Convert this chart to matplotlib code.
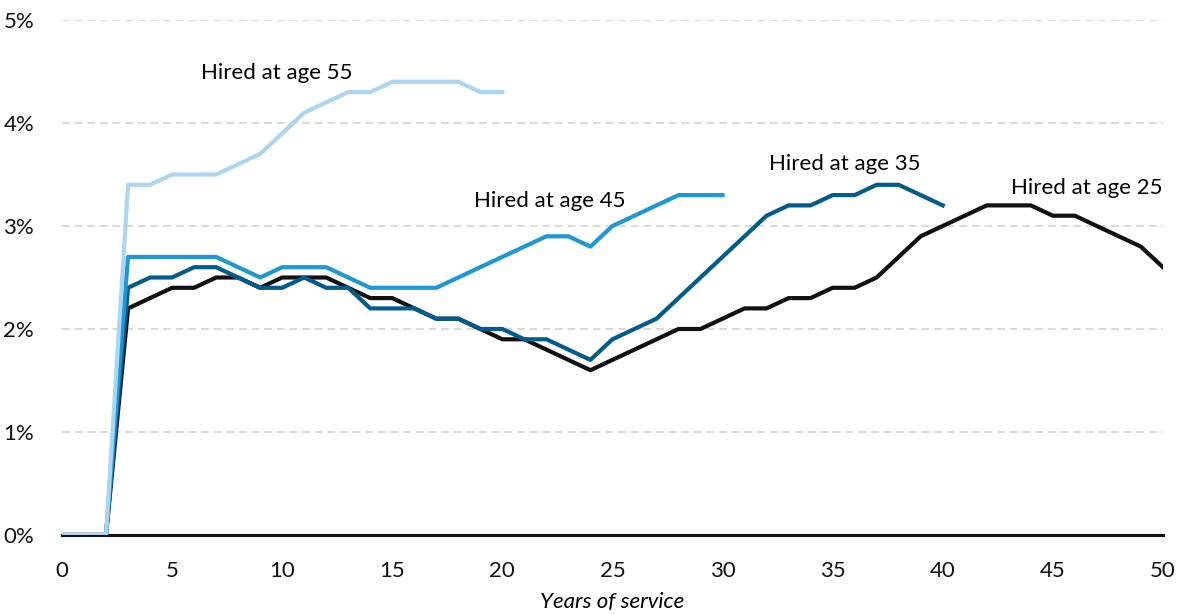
import matplotlib.pyplot as plt
from matplotlib.ticker import FuncFormatter

plt.rcParams['font.family'] = ['Lato', 'DejaVu Sans']

# years of service for each hiring age
years_25 = list(range(0, 51))
years_35 = list(range(0, 41))
years_45 = list(range(0, 31))
years_55 = list(range(0, 21))

# percent values
hired_25 = [0, 0, 0, 2.2, 2.3, 2.4, 2.4, 2.5, 2.5, 2.4,
            2.5, 2.5, 2.5, 2.4, 2.3, 2.3, 2.2, 2.1, 2.1, 2.0,
            1.9, 1.9, 1.8, 1.7, 1.6, 1.7, 1.8, 1.9, 2.0, 2.0,
            2.1, 2.2, 2.2, 2.3, 2.3, 2.4, 2.4, 2.5, 2.7, 2.9,
            3.0, 3.1, 3.2, 3.2, 3.2, 3.1, 3.1, 3.0, 2.9, 2.8,
            2.6]
hired_35 = [0, 0, 0, 2.4, 2.5, 2.5, 2.6, 2.6, 2.5, 2.4,
            2.4, 2.5, 2.4, 2.4, 2.2, 2.2, 2.2, 2.1, 2.1, 2.0,
            2.0, 1.9, 1.9, 1.8, 1.7, 1.9, 2.0, 2.1, 2.3, 2.5,
            2.7, 2.9, 3.1, 3.2, 3.2, 3.3, 3.3, 3.4, 3.4, 3.3,
            3.2]
hired_45 = [0, 0, 0, 2.7, 2.7, 2.7, 2.7, 2.7, 2.6, 2.5,
            2.6, 2.6, 2.6, 2.5, 2.4, 2.4, 2.4, 2.4, 2.5, 2.6,
            2.7, 2.8, 2.9, 2.9, 2.8, 3.0, 3.1, 3.2, 3.3, 3.3,
            3.3]
hired_55 = [0, 0, 0, 3.4, 3.4, 3.5, 3.5, 3.5, 3.6, 3.7,
            3.9, 4.1, 4.2, 4.3, 4.3, 4.4, 4.4, 4.4, 4.4, 4.3,
            4.3]

fig, ax = plt.subplots(figsize=(11.83, 6.14), dpi=100)
fig.subplots_adjust(left=0.0524, right=0.983, bottom=0.1287, top=0.9674)

# gridlines
ax.set_ylim(0, 5)
ax.set_xlim(0, 50)
ax.set_yticks([0, 1, 2, 3, 4, 5])
ax.set_xticks(range(0, 51, 5))
ax.grid(axis='y', color='#d9d9d9', linestyle=(0, (4, 2.5)), linewidth=1.4)
ax.set_axisbelow(True)

for s in ['top', 'right', 'left']:
    ax.spines[s].set_visible(False)
ax.spines['bottom'].set_color('#111111')
ax.spines['bottom'].set_linewidth(2.2)
ax.spines['bottom'].set_zorder(1.5)

ax.plot(years_25, hired_25, color='#111111', lw=3, zorder=3)
ax.plot(years_35, hired_35, color='#005b8e', lw=3, zorder=3)
ax.plot(years_45, hired_45, color='#1b98d5', lw=3, zorder=3)
ax.plot(years_55, hired_55, color='#abd5f1', lw=3, zorder=3)

ax.yaxis.set_major_formatter(FuncFormatter(lambda v, p: f'{v:.0f}%'))
ax.tick_params(axis='both', length=0, labelsize=16, colors='#111111')
ax.tick_params(axis='y', pad=20)
ax.tick_params(axis='x', pad=19)
ax.set_xlabel('Years of service', fontsize=16, style='italic', labelpad=8)

ax.text(6.3, 4.49, 'Hired at age 55', fontsize=16, va='center', ha='left')
ax.text(18.7, 3.24, 'Hired at age 45', fontsize=16, va='center', ha='left')
ax.text(32.1, 3.60, 'Hired at age 35', fontsize=16, va='center', ha='left')
ax.text(50, 3.37, 'Hired at age 25', fontsize=16, va='center', ha='right')

plt.savefig('out.png', dpi=100)
plt.close()
